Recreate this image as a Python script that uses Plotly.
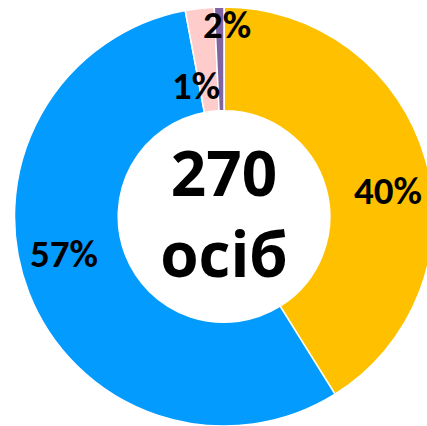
import plotly.graph_objects as go

categories = ["A", "B", "C", "D"]
values = [111, 151, 6, 2]
colors = ["#FFC000", "#049BFF", "#FFCCCC", "#8064A2"]
label_texts = ["40%", "57%", "1%", "2%"]
center_text = "<b>270</b><br><b>осіб</b>"

W, H = 440, 426
FONT = "Carlito, Lato, Open Sans, sans-serif"

fig = go.Figure()
fig.add_trace(go.Pie(
    labels=categories,
    values=values,
    sort=False,
    direction="clockwise",
    rotation=0,
    hole=0.505,
    marker=dict(colors=colors, line=dict(color="white", width=1.5)),
    textinfo="none",
    hoverinfo="label+percent",
    showlegend=False,
    domain=dict(x=[14.5 / W, 433.5 / W], y=[0, 419 / H]),
    title=dict(text=center_text, position="middle center",
               font=dict(family="Open Sans, sans-serif", size=62, color="black")),
))

# label positions (pixels from top-left) for the percentage labels
label_pos = [(388, 191), (64, 254), (196, 85), (227, 24)]
for txt, (px, py) in zip(label_texts, label_pos):
    fig.add_annotation(
        x=px / W, y=1 - py / H, xref="paper", yref="paper",
        text="<b>%s</b>" % txt, showarrow=False,
        xanchor="center", yanchor="middle",
        font=dict(family=FONT, size=39, color="black"),
    )

fig.update_layout(
    width=W, height=H, autosize=False,
    margin=dict(l=0, r=0, t=0, b=0),
    paper_bgcolor="white", plot_bgcolor="white",
)

fig.write_html("out.html", config={"displayModeBar": False},
               post_script="document.body.style.margin='0';document.body.style.overflow='hidden';")
